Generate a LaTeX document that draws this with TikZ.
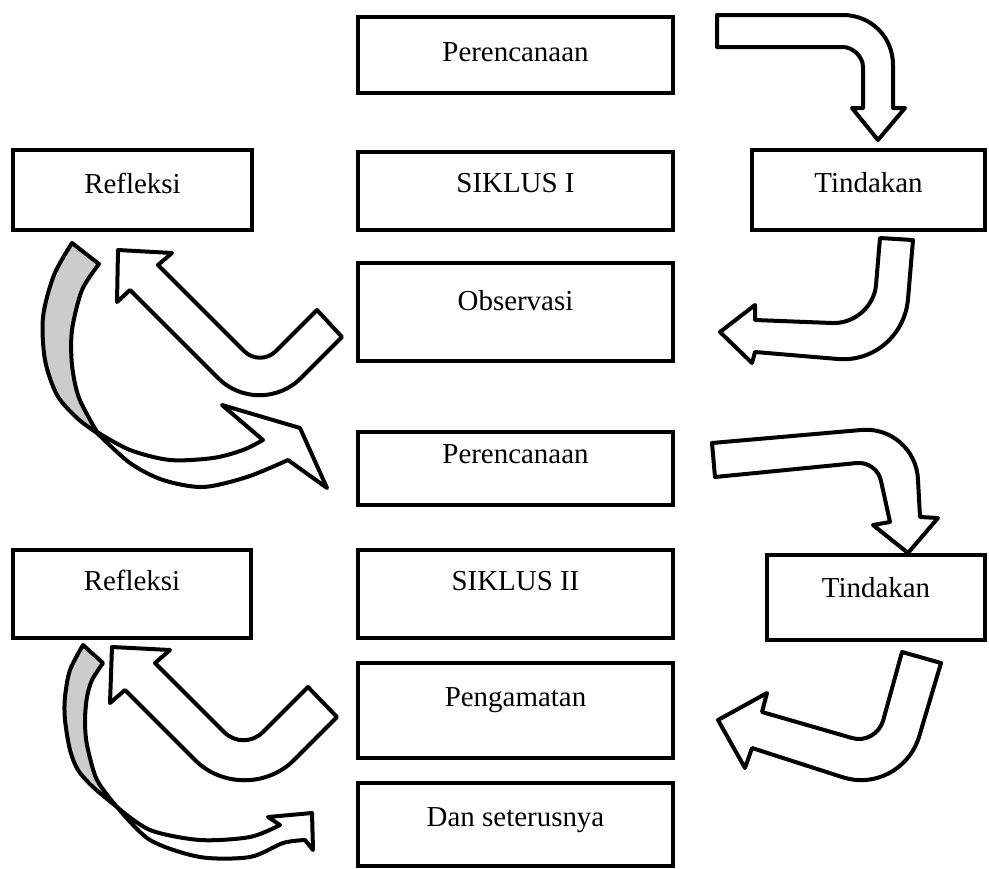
\documentclass[tikz,border=0pt]{standalone}
\usepackage{fontspec}
\setmainfont{Liberation Serif}
\newcommand\mkbox[7]{%
  \pgfmathsetmacro\mbW{(#4-#2)*0.75}%
  \pgfmathsetmacro\mbH{(#6-#3)*0.75}%
  \pgfmathsetmacro\mbD{(#5-#6)*0.75}%
  \pgfmathsetmacro\mbX{(#2+#4)/2}%
  \node[box, minimum width=\mbW pt, text height=\mbH pt, text depth=\mbD pt] (#1) at (\mbX,#6) {#7};%
}
\begin{document}
\begin{tikzpicture}[x=0.75pt,y=-0.75pt,
  box/.style={draw, line width=3.2pt, inner sep=0pt, anchor=base, font=\fontsize{21.7}{26}\selectfont},
  barrow/.style={draw, line width=3pt, fill=white, line join=round},
  garrow/.style={draw, line width=3pt, fill=gray!40, line join=round}]
\useasboundingbox (0,0) rectangle (989,868);

% boxes
\mkbox{p1}{358}{17}{673}{93}{61}{Perencanaan}
\mkbox{r1}{13}{150}{252}{230}{193}{Refleksi}
\mkbox{s1}{358}{152}{673}{230}{192}{SIKLUS I}
\mkbox{t1}{752}{150}{985}{230}{192}{Tindakan}
\mkbox{o1}{358}{263}{673}{361}{310}{Observasi}
\mkbox{p2}{358}{432}{673}{505}{463}{Perencanaan}
\mkbox{r2}{13}{550}{251}{638}{590}{Refleksi}
\mkbox{s2}{358}{550}{673}{638}{590}{SIKLUS II}
\mkbox{t2}{767}{555}{985}{640}{597}{Tindakan}
\mkbox{g2}{358}{663}{673}{758}{706}{Pengamatan}
\mkbox{d2}{358}{783}{673}{866}{826}{Dan seterusnya}

% arrow 1: Perencanaan -> Tindakan
\draw[barrow] (717,15) -- (843,15) .. controls (871,15) and (893,37) .. (893,65)
  -- (893,108) -- (905,108) -- (878,140) -- (852,108) -- (863,108) -- (863,67)
  .. controls (863,56) and (852,47) .. (843,47) -- (717,47) -- cycle;

% arrow 2: Tindakan -> Observasi
\draw[barrow] (880,238) -- (913,240) -- (908,299) .. controls (905,335) and (874,362) .. (838,359)
  -- (755,352) -- (752,363) -- (720,332) -- (755,305) -- (755,320) -- (832,323)
  .. controls (854,324) and (874,307) .. (876,285) -- cycle;

% arrow 3: Observasi -> Refleksi (U)
\draw[barrow] (317,310) -- (342,337) -- (301,378) .. controls (278,401) and (241,401) .. (218,378)
  -- (130,290) -- (117,302) -- (118,250) -- (172,253) -- (158,265) -- (244,351)
  .. controls (253,360) and (267,360) .. (276,351) -- cycle;

% arrow 4: Refleksi -> Perencanaan (curved)
\draw[garrow] plot[smooth] coordinates {(99,264) (82,290) (72,330) (72,365) (79,398) (97,432)}
  -- plot[smooth] coordinates {(97,433) (77,418) (57,395) (45,360) (43,317) (54,275) (72,243)} -- cycle;
\draw[barrow] plot[smooth] coordinates {(97,432) (130,450) (170,460) (213,458) (243,450) (263,440)}
  -- (222,405) -- (300,428) -- (327,488)
  -- plot[smooth] coordinates {(288,460) (247,477) (203,487) (163,480) (130,463) (97,433)} -- cycle;

% arrow 5: Perencanaan -> Tindakan
\draw[barrow] (712,443) -- (861,430) .. controls (891,427) and (917,450) .. (918,480)
  -- (920,517) -- (938,518) -- (908,553) -- (873,525) -- (890,522) -- (881,481)
  .. controls (879,470) and (868,462) .. (857,463) -- (715,477) -- cycle;

% arrow 6: Tindakan -> Pengamatan
\draw[barrow] (902,652) -- (941,663) -- (919,737) .. controls (909,769) and (875,788) .. (842,777)
  -- (752,748) -- (745,768) -- (718,720) -- (767,693) -- (762,712) -- (852,738)
  .. controls (865,742) and (879,734) .. (883,721) -- cycle;

% arrow 7: Pengamatan -> Refleksi (U)
\draw[barrow] (308,687) -- (337,717) -- (294,760) .. controls (267,787) and (222,787) .. (195,760)
  -- (125,690) -- (110,703) -- (112,647) -- (170,650) -- (155,663) -- (224,732)
  .. controls (235,743) and (252,743) .. (263,732) -- cycle;

% arrow 8: Refleksi -> Dan seterusnya (curved)
\draw[garrow] plot[smooth] coordinates {(103,663) (92,680) (87,697) (85,720) (87,745) (97,780) (117,807)}
  -- plot[smooth] coordinates {(117,807) (93,787) (78,770) (70,750) (65,720) (65,697) (70,670) (83,645)} -- cycle;
\draw[barrow] plot[smooth] coordinates {(117,807) (150,830) (200,840) (250,837) (280,825)}
  -- (268,817) -- (312,813) -- (313,850)
  -- plot[smooth] coordinates {(305,840) (283,843) (250,857) (200,857) (150,840) (117,807)} -- cycle;
\end{tikzpicture}
\end{document}
